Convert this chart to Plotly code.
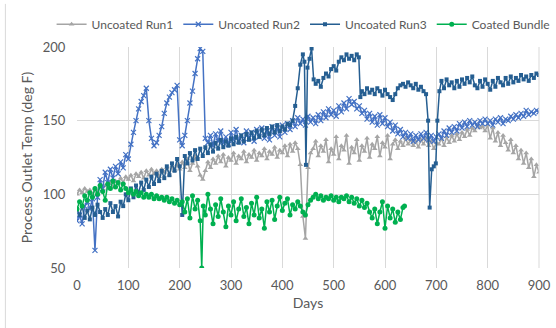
import plotly.graph_objects as go

# ---------------- data ----------------
run1_days = list(range(0, 905, 5))
run1_temp = [
    100,103,101,104,102,103,100,104,102,105,103,106,104,108,105,109,107,111,108,112,
    110,113,109,114,112,115,111,116,113,117,114,116,112,117,115,118,113,119,116,120,
    117,122,118,124,116,121,126,119,113,110,116,122,118,124,121,126,122,127,119,125,
    123,128,121,126,124,129,122,127,125,130,123,128,126,131,124,129,127,132,125,130,
    128,133,126,134,129,135,131,120,85,70,118,128,131,136,126,133,129,137,122,131,
    127,139,124,133,130,140,121,132,128,137,123,133,129,138,125,134,131,139,126,135,
    132,140,124,134,137,131,136,133,138,134,137,133,136,132,137,134,138,133,136,131,
    135,134,138,133,139,135,140,136,141,137,142,139,144,140,145,143,147,145,146,143,
    147,138,145,136,142,133,140,135,130,137,128,133,124,130,121,128,118,124,112,120,
    115,
]

run2_days = list(range(0, 905, 5))
run2_temp = [
    82,86,80,92,95,90,97,62,98,110,104,115,108,117,111,119,114,122,118,127,
    124,134,142,150,158,163,167,172,150,138,133,135,140,146,155,162,166,169,171,174,
    137,133,140,150,162,170,182,192,199,197,138,135,140,133,141,136,143,135,139,134,
    142,137,144,136,140,135,143,138,142,136,144,139,145,138,143,137,146,140,145,139,
    147,142,148,144,150,146,152,148,151,147,153,149,152,148,154,150,156,152,158,154,
    157,153,160,156,162,158,165,161,163,158,160,155,157,151,155,149,153,147,154,148,
    152,146,149,143,147,141,144,139,142,138,141,136,140,137,141,138,142,137,140,136,
    139,141,138,143,140,145,142,146,143,148,145,149,146,150,147,149,146,150,148,151,
    148,150,147,151,149,152,148,151,150,153,151,154,152,155,153,157,154,156,155,157,
    156,
]

run3_days = (list(range(0, 420, 5)) +
             [420,425,430,435,440,443,446,449,453,457,461,465,470,475,480,485,490,495,
              500,505,510,515,520,525,530,535,540,545,549,552,555,560,565,570,575,580,
              585,590,595,600,605,610,615,620,625,630,635,640,645,650,655,660,665,670,
              675,680,684,687,691,695,699,702,706,710] +
             list(range(715, 905, 5)))
run3_temp = [
    90,86,92,84,89,83,91,86,93,88,84,90,86,94,88,92,85,95,92,100,
    96,104,98,106,101,108,103,110,105,112,107,114,109,116,111,119,113,121,116,124,
    119,86,126,121,128,123,130,124,131,126,132,128,134,129,135,131,137,132,136,133,
    138,134,139,135,140,136,141,137,142,138,143,139,144,140,145,141,146,142,147,143,
    146,144,148,147,
    150,160,172,188,195,190,120,186,192,199,178,175,177,173,179,182,180,185,
    187,184,190,193,191,195,192,194,191,195,193,166,170,168,172,169,171,168,
    172,170,167,171,168,166,164,168,172,174,175,173,176,174,172,175,171,173,
    170,168,150,91,117,119,121,150,170,177,
    172,178,174,176,172,177,173,178,175,179,176,180,174,172,177,173,178,
    175,171,177,173,179,176,174,179,175,180,176,179,177,181,178,180,177,181,179,182,181,
]

coated_days = sorted(list(range(0, 245, 5)) + [243, 246] + list(range(250, 640, 5)) + [638])
coated_temp = [
    90,95,92,99,96,101,98,104,100,106,102,96,107,104,109,105,108,103,107,104,
    101,103,100,102,99,101,98,100,98,100,97,99,97,98,96,98,95,97,94,96,
    93,95,88,97,84,99,90,96,82,
    50,92,
    86,100,90,80,93,85,97,88,78,92,
    86,95,82,90,97,85,91,80,94,86,98,84,90,77,95,88,96,83,92,98,
    89,94,97,86,93,90,95,92,88,86,93,96,98,100,97,99,96,98,97,99,
    96,98,95,98,97,99,95,98,94,97,92,96,91,94,88,84,90,80,88,95,
    77,92,84,90,81,88,83,91,
    92,
]

series_names = ["Uncoated Run1", "Uncoated Run2", "Uncoated Run3", "Coated Bundle"]
x_ticks = [0, 100, 200, 300, 400, 500, 600, 700, 800, 900]
y_ticks = [50, 100, 150, 200]

# ---------------- styling ----------------
FONT = "Lato"
TXT = "#595959"
GRID = "#D9D9D9"

styles = [
    dict(color="#A5A5A5", symbol="triangle-up", size=5),
    dict(color="#4472C4", symbol="x-thin", size=5),
    dict(color="#255E91", symbol="square", size=4),
    dict(color="#00B050", symbol="circle", size=5),
]
data = [(run1_days, run1_temp), (run2_days, run2_temp),
        (run3_days, run3_temp), (coated_days, coated_temp)]

fig = go.Figure()
for name, (xs, ys), st in zip(series_names, data, styles):
    marker = dict(symbol=st["symbol"], size=st["size"], color=st["color"])
    if st["symbol"] == "x-thin":
        marker["line"] = dict(color=st["color"], width=1.2)
    fig.add_trace(go.Scatter(
        x=xs, y=ys, name=name, mode="lines+markers",
        line=dict(color=st["color"], width=1.5),
        marker=marker,
    ))

fig.update_layout(
    width=556, height=328,
    margin=dict(l=77, r=17, t=47, b=60, autoexpand=False),
    paper_bgcolor="white", plot_bgcolor="white",
    font=dict(family=FONT, color=TXT, size=13),
    legend=dict(orientation="h", x=-0.055, xanchor="left", y=1.103, yanchor="middle",
                font=dict(size=12, color=TXT), itemwidth=30,
                bgcolor="rgba(0,0,0,0)", tracegroupgap=0),
    xaxis=dict(range=[0, 900], tickvals=x_ticks, showgrid=True, gridcolor=GRID,
               gridwidth=1, zeroline=False, showline=False,
               ticks="outside", ticklen=5, tickcolor="rgba(0,0,0,0)",
               tickfont=dict(size=13, color=TXT),
               title=dict(text="Days", font=dict(size=14, color=TXT), standoff=6)),
    yaxis=dict(range=[50, 200], tickvals=y_ticks, showgrid=True, gridcolor=GRID,
               gridwidth=1, zeroline=False, showline=False,
               ticks="outside", ticklen=8, tickcolor="rgba(0,0,0,0)",
               tickfont=dict(size=13, color=TXT),
               title=dict(text="Process Outlet Temp (deg F)", font=dict(size=14, color=TXT),
                          standoff=6)),
    shapes=[
        dict(type="line", xref="paper", yref="paper", x0=-0.155, x1=-0.155,
             y0=-0.28, y1=1.195, line=dict(color=GRID, width=1)),
        dict(type="line", xref="paper", yref="paper", x0=1, x1=1, y0=0, y1=1,
             line=dict(color=GRID, width=1)),
    ],
)

fig.write_html("out.html", post_script="document.body.style.margin='0';",
               config={"displayModeBar": False})
